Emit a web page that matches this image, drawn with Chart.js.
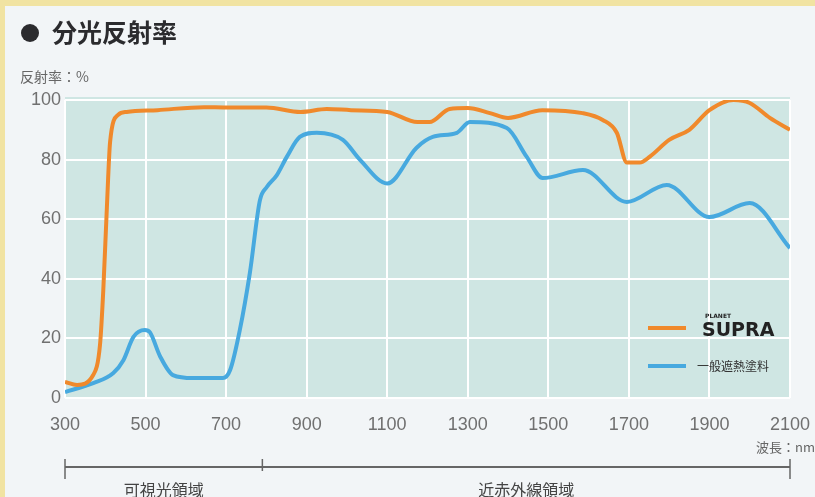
<!DOCTYPE html>
<html>
<head>
<meta charset="utf-8">
<script src="https://cdn.jsdelivr.net/npm/chart.js@4/dist/chart.umd.min.js"></script>
<style>
  html, body { margin: 0; padding: 0; background: #f2f5f7; }
  #wrap { width: 815px; height: 497px; position: relative; }
</style>
</head>
<body>
<div id="wrap"><canvas id="myChart" width="815" height="497"></canvas></div>
<script>
// SUPRA (orange)
var supraWl  = [300, 330, 370, 387, 395, 404, 412, 432, 453, 530, 645, 700, 800, 885, 950, 1010, 1100, 1175, 1205, 1255, 1300, 1355, 1400, 1485, 1585, 1635, 1670, 1695, 1727, 1752, 1800, 1850, 1900, 1960, 2000, 2050, 2100];
var supraVal = [5.4, 4.4, 7.7, 18, 36, 64, 86, 95, 96, 96.6, 97.6, 97.5, 97.5, 96, 97, 96.6, 96, 92.6, 92.6, 97, 97.3, 95.6, 94, 96.6, 95.6, 93.3, 89, 79, 79, 81, 86.6, 90, 96.6, 100, 99, 94, 90];
// 一般遮熱塗料 (blue)
var generalWl  = [300, 370, 420, 445, 470, 498, 511, 536, 568, 618, 692, 710, 734, 759, 784, 801, 826, 851, 883, 925, 990, 1032, 1100, 1173, 1213, 1273, 1305, 1397, 1446, 1486, 1586, 1695, 1794, 1900, 2000, 2100];
var generalVal = [2, 5, 8.4, 12.7, 20.5, 22.8, 22, 14, 7.7, 6.7, 6.7, 9.4, 22.8, 42, 66.4, 70.8, 74.8, 81, 87.6, 89, 86.6, 80, 72, 84, 87.6, 89, 92.6, 90.6, 81, 73.8, 76.5, 65.8, 71.5, 60.7, 65.4, 50.3];

var seriesNames = ["SUPRA", "一般遮熱塗料"];
var regionBounds = [300, 790, 2100];
var regionNames = ["可視光領域", "近赤外線領域"];

var orange = '#f0892b';
var blue = '#47a9df';

function toPoints(xs, ys) {
    var pts = [];
    for (var i = 0; i < xs.length; i++) { pts.push({x: xs[i], y: ys[i]}) }
    return pts;
}

var decor = {
    id: 'decor',
    beforeDraw: function(chart) {
        var c = chart.ctx, a = chart.chartArea;
        c.save();
        c.fillStyle = '#f2f5f7';
        c.fillRect(0, 0, chart.width, chart.height);
        c.fillStyle = '#f1e3a2';
        c.fillRect(0, 0, chart.width, 6);
        c.fillRect(0, 0, 5, chart.height);
        c.fillStyle = '#cfe6e3';
        c.fillRect(a.left, a.top - 3, a.right - a.left, a.bottom - a.top + 3);
        c.restore();
    },
    afterDraw: function(chart) {
        var c = chart.ctx, a = chart.chartArea;
        var xs = chart.scales.x;
        c.save();
        // title
        c.fillStyle = '#2b2b2e';
        c.beginPath(); c.arc(30, 33, 9, 0, Math.PI * 2); c.fill();
        c.font = 'bold 25px "Noto Sans CJK JP"';
        c.textBaseline = 'middle';
        c.fillText('分光反射率', 52, 32);
        c.fillStyle = '#666';
        c.font = '14px "Noto Sans CJK JP"';
        c.fillText('反射率：%', 20, 77);
        c.textAlign = 'right';
        c.font = '13px "Noto Sans CJK JP"';
        c.fillText('波長：nm', 815, 447);

        // legend
        c.lineWidth = 4;
        c.strokeStyle = orange;
        c.beginPath(); c.moveTo(648, 328); c.lineTo(686, 328); c.stroke();
        c.strokeStyle = blue;
        c.beginPath(); c.moveTo(648, 366); c.lineTo(686, 366); c.stroke();
        c.textAlign = 'left';
        c.fillStyle = '#222';
        c.font = 'bold 6px "DejaVu Sans"';
        c.fillText('PLANET', 705, 316);
        c.font = 'bold 19px "DejaVu Sans"';
        c.fillText(seriesNames[0], 702, 331);
        c.font = '12px "Noto Sans CJK JP"';
        c.fillStyle = '#333';
        c.fillText(seriesNames[1], 697, 366);

        // region bracket
        var y0 = 467;
        c.strokeStyle = '#666';
        c.lineWidth = 2;
        c.beginPath();
        c.moveTo(xs.getPixelForValue(regionBounds[0]), y0);
        c.lineTo(xs.getPixelForValue(regionBounds[2]), y0);
        c.stroke();
        c.lineWidth = 1.5;
        for (var i = 0; i < regionBounds.length; i++) {
            var px = xs.getPixelForValue(regionBounds[i]);
            var down = (i === 1) ? 4 : 12;
            c.beginPath(); c.moveTo(px, y0 - 8); c.lineTo(px, y0 + down); c.stroke();
        }
        c.fillStyle = '#444';
        c.textAlign = 'center';
        c.font = '16px "Noto Sans CJK JP"';
        for (var j = 0; j < regionNames.length; j++) {
            var mid = (xs.getPixelForValue(regionBounds[j]) + xs.getPixelForValue(regionBounds[j + 1])) / 2;
            c.fillText(regionNames[j], mid, 490);
        }
        c.restore();
    }
};

var ctx = document.getElementById('myChart').getContext('2d');
var myChart = new Chart(ctx, {
    type: 'line',
    data: {
        datasets: [{
            label: seriesNames[0],
            data: toPoints(supraWl, supraVal),
            borderColor: orange,
            borderWidth: 4,
            pointRadius: 0,
            cubicInterpolationMode: 'monotone',
            fill: false
        }, {
            label: seriesNames[1],
            data: toPoints(generalWl, generalVal),
            borderColor: blue,
            borderWidth: 4,
            pointRadius: 0,
            cubicInterpolationMode: 'monotone',
            fill: false
        }]
    },
    options: {
        responsive: false,
        animation: false,
        layout: { padding: { left: 0, right: 25, top: 100, bottom: 59 } },
        plugins: { legend: { display: false }, tooltip: { enabled: false } },
        scales: {
            x: {
                type: 'linear',
                min: 300, max: 2100,
                afterFit: function(s) { s.height = 40; s.paddingRight = 0; s.paddingLeft = 0 },
                grid: { color: '#ffffff', lineWidth: 2, drawTicks: false },
                border: { display: false },
                ticks: { stepSize: 200, padding: 16, color: '#707070', font: { family: 'Liberation Sans', size: 18 },
                         callback: function(v) { return String(v) } }
            },
            y: {
                min: 0, max: 100,
                afterFit: function(s) { s.width = 65 },
                grid: { color: '#ffffff', lineWidth: 2, drawTicks: false },
                border: { display: false },
                ticks: { stepSize: 20, padding: 4, color: '#707070', font: { family: 'Liberation Sans', size: 18 } }
            }
        }
    },
    plugins: [decor]
});
</script>
</body>
</html>
